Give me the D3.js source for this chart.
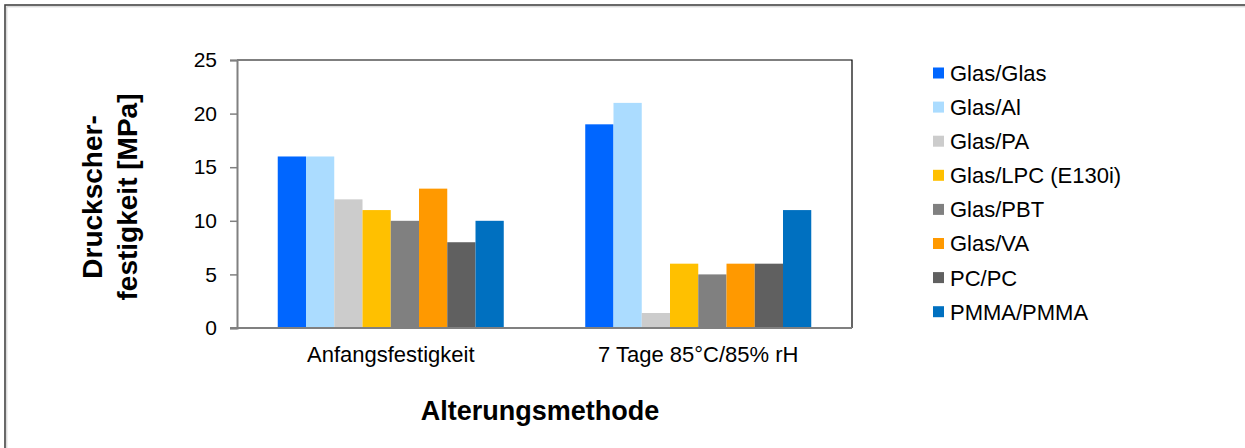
<!DOCTYPE html>
<html>
<head>
<meta charset="utf-8">
<script src="https://cdn.jsdelivr.net/npm/d3@7"></script>
<style>
  body { margin: 0; background: #fff; }
  svg { display: block; font-family: "Liberation Sans", Arial, sans-serif; }
</style>
</head>
<body>
<svg id="chart"></svg>
<script>
// data
const groups = ['Anfangsfestigkeit', '7 Tage 85°C/85% rH'];
const pairs = ['Glas/Glas', 'Glas/Al', 'Glas/PA', 'Glas/LPC (E130i)', 'Glas/PBT', 'Glas/VA', 'PC/PC', 'PMMA/PMMA'];
const initialValues = [16, 16, 12, 11, 10, 13, 8, 10];
const agedValues = [19, 21, 1.4, 6, 5, 6, 6, 11];
const yTicks = [0, 5, 10, 15, 20, 25];
const colors = ['#0066ff', '#abdcff', '#cccccc', '#ffc000', '#808080', '#ff9900', '#606060', '#0070c0'];

const values = [initialValues, agedValues];
const data = groups.map((g, gi) => ({ group: g, vals: pairs.map((p, pi) => ({ pair: p, v: values[gi][pi] })) }));

const width = 1245, height = 448;
const margin = { top: 60, right: 393, bottom: 120, left: 237 };

const svg = d3.select('#chart').attr('width', width).attr('height', height);

// outer frame (only top and left edges are visible)
svg.append('rect').attr('x', 5).attr('y', 5).attr('width', width + 20).attr('height', height + 20)
  .attr('fill', 'none').attr('stroke', '#444').attr('stroke-width', 1.6);
svg.append('rect').attr('x', 6.8).attr('y', 6.8).attr('width', width + 20).attr('height', height + 20)
  .attr('fill', 'none').attr('stroke', '#ccc').attr('stroke-width', 1);

const x0 = d3.scaleBand().domain(groups).range([margin.left, width - margin.right]).paddingInner(0.265).paddingOuter(0.1325);
const x1 = d3.scaleBand().domain(pairs).range([0, x0.bandwidth()]);
const y = d3.scaleLinear().domain([0, 25]).range([height - margin.bottom, margin.top]);

// plot border top/right
svg.append('path')
  .attr('d', `M${margin.left},${margin.top}H${width - margin.right}V${height - margin.bottom}`)
  .attr('fill', 'none').attr('stroke', '#000').attr('stroke-width', 1.2);

svg.append('g').selectAll('g').data(data).join('g')
  .attr('transform', d => `translate(${x0(d.group)},0)`)
  .selectAll('rect').data(d => d.vals).join('rect')
  .attr('x', d => x1(d.pair)).attr('width', x1.bandwidth())
  .attr('y', d => y(d.v)).attr('height', d => y(0) - y(d.v))
  .attr('fill', (d, i) => colors[i]);

// y axis
const yAxis = svg.append('g').attr('transform', `translate(${margin.left},0)`)
  .call(d3.axisLeft(y).tickValues(yTicks).tickSize(7).tickPadding(13));
yAxis.select('.domain').attr('stroke', '#808080').attr('stroke-width', 2);
yAxis.selectAll('.tick line').attr('stroke', '#808080').attr('stroke-width', 1.5);
yAxis.selectAll('.tick text').attr('font-size', 21).attr('fill', '#000').attr('font-family', '"Liberation Sans", Arial, sans-serif');

// x axis line
svg.append('line').attr('x1', margin.left - 7).attr('x2', width - margin.right)
  .attr('y1', y(0)).attr('y2', y(0)).attr('stroke', '#808080').attr('stroke-width', 2);

svg.append('g').selectAll('text').data(groups).join('text')
  .attr('x', d => x0(d) + x0.bandwidth() / 2).attr('y', y(0) + 34)
  .attr('text-anchor', 'middle').attr('font-size', 22).text(d => d);

// axis titles
svg.append('text').attr('x', 540).attr('y', 420).attr('text-anchor', 'middle')
  .attr('font-size', 27).attr('font-weight', 'bold').text('Alterungsmethode');

const yt = svg.append('text').attr('transform', 'translate(0,197) rotate(-90)')
  .attr('text-anchor', 'middle').attr('font-size', 28).attr('font-weight', 'bold');
yt.append('tspan').attr('x', 0).attr('y', 102).text('Druckscher-');
yt.append('tspan').attr('x', 0).attr('y', 137).text('festigkeit [MPa]');

// legend
const legend = svg.append('g').selectAll('g').data(pairs).join('g')
  .attr('transform', (d, i) => `translate(933,${73 + i * 34.1})`);
legend.append('rect').attr('x', 0).attr('y', -5.5).attr('width', 11).attr('height', 11).attr('fill', (d, i) => colors[i]);
legend.append('text').attr('x', 17).attr('y', 0).attr('dy', '0.36em').attr('font-size', 22).text(d => d);
</script>
</body>
</html>
